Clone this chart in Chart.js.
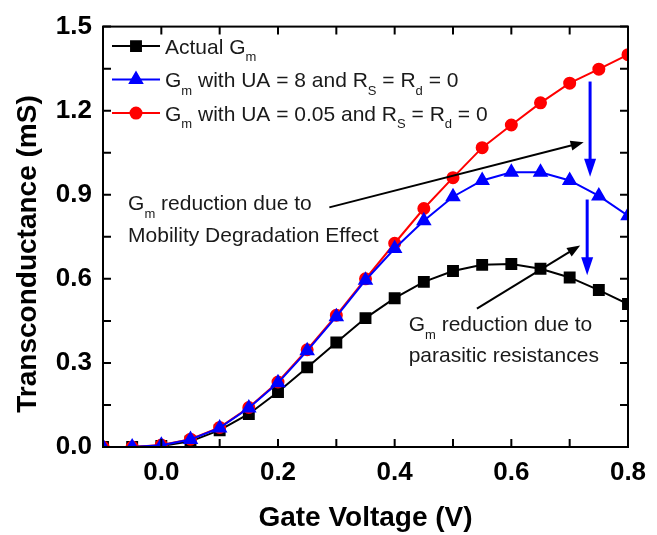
<!DOCTYPE html>
<html lang="en">
<head>
    <meta charset="UTF-8">
    <title>Transconductance</title>
    <script src="https://cdn.jsdelivr.net/npm/chart.js@4.4.1/dist/chart.umd.min.js"></script>
    <style>
        html, body { margin: 0; padding: 0; background: #fff; }
        #wrap { width: 657px; height: 535px; }
    </style>
</head>
<body>
    <div id="wrap"><canvas id="myChart" width="657" height="535"></canvas></div>
    <script>
        // Datos
        const gateV = [-0.1, -0.05, 0, 0.05, 0.1, 0.15, 0.2, 0.25, 0.3, 0.35, 0.4, 0.45, 0.5, 0.55, 0.6, 0.65, 0.7, 0.75, 0.8];
        const actualGm = [0, 0, 0.004, 0.02, 0.06, 0.118, 0.196, 0.284, 0.373, 0.46, 0.531, 0.589, 0.628, 0.65, 0.653, 0.636, 0.605, 0.56, 0.51];
        const gmUA8 = [0, 0, 0.006, 0.027, 0.068, 0.139, 0.229, 0.343, 0.465, 0.595, 0.708, 0.807, 0.893, 0.951, 0.98, 0.98, 0.951, 0.896, 0.825];
        const gmUA005 = [0, 0, 0.007, 0.028, 0.07, 0.141, 0.232, 0.347, 0.47, 0.6, 0.727, 0.851, 0.961, 1.068, 1.149, 1.228, 1.298, 1.348, 1.4];

        const xTicks = [0, 0.2, 0.4, 0.6, 0.8];
        const xMinorTicks = [-0.1, 0.1, 0.3, 0.5, 0.7];
        const yTicks = [0, 0.3, 0.6, 0.9, 1.2, 1.5];
        const yMinorTicks = [0.15, 0.45, 0.75, 1.05, 1.35];

        const FONT = '"Liberation Sans", Arial, sans-serif';

        // texto con subíndices: [texto, esSubindice]
        const legendItems = [
            { color: '#000000', style: 'rect', parts: [['Actual G', 0], ['m', 1]] },
            { color: '#0000ff', style: 'triangle', parts: [['G', 0], ['m', 1], [' with UA = 8 and R', 0], ['S', 1], [' = R', 0], ['d', 1], [' = 0', 0]] },
            { color: '#ff0000', style: 'circle', parts: [['G', 0], ['m', 1], [' with UA = 0.05 and R', 0], ['S', 1], [' = R', 0], ['d', 1], [' = 0', 0]] }
        ];

        // anotaciones en coordenadas de datos
        const notes = [
            { x: -0.057, y: 0.845, parts: [['G', 0], ['m', 1], [' reduction due to', 0]] },
            { x: -0.057, y: 0.733, parts: [['Mobility Degradation Effect', 0]] },
            { x: 0.424, y: 0.4136, parts: [['G', 0], ['m', 1], [' reduction due to', 0]] },
            { x: 0.424, y: 0.305, parts: [['parasitic resistances', 0]] }
        ];
        const arrows = [
            { from: [0.288, 0.855], to: [0.724, 1.087], color: '#000', width: 2, head: [13, 5] },
            { from: [0.541, 0.494], to: [0.718, 0.719], color: '#000', width: 2, head: [13, 5] },
            { from: [0.735, 1.304], to: [0.735, 0.964], color: '#0000ff', width: 3, head: [18, 6] },
            { from: [0.73, 0.883], to: [0.73, 0.613], color: '#0000ff', width: 3, head: [18, 6] }
        ];

        function toPoints(values) {
            return gateV.map((v, i) => ({ x: v, y: values[i] }));
        }

        function drawRich(ctx, parts, x, y, size) {
            let cx = x;
            parts.forEach(p => {
                ctx.font = (p[1] ? 13 : size) + 'px ' + FONT;
                ctx.fillText(p[0], cx, p[1] ? y + 7.5 : y);
                cx += ctx.measureText(p[0]).width;
            });
        }

        function drawArrow(ctx, x1, y1, x2, y2, a) {
            const ang = Math.atan2(y2 - y1, x2 - x1);
            const len = a.head[0], hw = a.head[1];
            const bx = x2 - Math.cos(ang) * len, by = y2 - Math.sin(ang) * len;
            ctx.strokeStyle = a.color;
            ctx.fillStyle = a.color;
            ctx.lineWidth = a.width;
            ctx.beginPath();
            ctx.moveTo(x1, y1);
            ctx.lineTo(bx + Math.cos(ang) * 2, by + Math.sin(ang) * 2);
            ctx.stroke();
            ctx.beginPath();
            ctx.moveTo(x2, y2);
            ctx.lineTo(bx + Math.sin(ang) * hw, by - Math.cos(ang) * hw);
            ctx.lineTo(bx - Math.sin(ang) * hw, by + Math.cos(ang) * hw);
            ctx.closePath();
            ctx.fill();
        }

        const decor = {
            id: 'decor',
            afterDraw(chart) {
                const ctx = chart.ctx;
                const a = chart.chartArea;
                const x = chart.scales.x, y = chart.scales.y;
                ctx.save();

                // marco y marcas hacia dentro
                ctx.strokeStyle = '#000';
                ctx.lineWidth = 2;
                ctx.strokeRect(a.left, a.top, a.right - a.left, a.bottom - a.top);
                ctx.beginPath();
                xTicks.concat(xMinorTicks).forEach(v => {
                    const px = x.getPixelForValue(v);
                    ctx.moveTo(px, a.bottom); ctx.lineTo(px, a.bottom - 8);
                    ctx.moveTo(px, a.top); ctx.lineTo(px, a.top + 8);
                });
                yTicks.concat(yMinorTicks).forEach(v => {
                    const py = y.getPixelForValue(v);
                    ctx.moveTo(a.left, py); ctx.lineTo(a.left + 8, py);
                    ctx.moveTo(a.right, py); ctx.lineTo(a.right - 8, py);
                });
                ctx.stroke();

                // títulos de ejes
                ctx.fillStyle = '#000';
                ctx.textAlign = 'center';
                ctx.textBaseline = 'middle';
                ctx.font = 'bold 28px ' + FONT;
                ctx.fillText('Gate Voltage (V)', (a.left + a.right) / 2, 518);
                ctx.save();
                ctx.translate(28, 254);
                ctx.rotate(-Math.PI / 2);
                ctx.fillText('Transconductance (mS)', 0, 0);
                ctx.restore();

                // leyenda
                ctx.textAlign = 'left';
                ctx.textBaseline = 'alphabetic';
                legendItems.forEach((it, i) => {
                    const base = a.top + 27 + i * 33.5;
                    const cy = base - 7.5;
                    ctx.strokeStyle = it.color;
                    ctx.fillStyle = it.color;
                    ctx.lineWidth = 2;
                    ctx.beginPath();
                    ctx.moveTo(a.left + 9, cy); ctx.lineTo(a.left + 57, cy);
                    ctx.stroke();
                    const r = it.style === 'circle' ? 5.5 : 7;
                    Chart.helpers.drawPoint(ctx, { pointStyle: it.style, radius: r, borderWidth: 1 }, a.left + 33, cy);
                    ctx.fillStyle = '#1a1a1a';
                    drawRich(ctx, it.parts, a.left + 62, base, 21);
                });

                // anotaciones
                ctx.fillStyle = '#1a1a1a';
                notes.forEach(n => {
                    drawRich(ctx, n.parts, x.getPixelForValue(n.x), y.getPixelForValue(n.y), 21);
                });
                arrows.forEach(ar => {
                    drawArrow(ctx,
                        x.getPixelForValue(ar.from[0]), y.getPixelForValue(ar.from[1]),
                        x.getPixelForValue(ar.to[0]), y.getPixelForValue(ar.to[1]), ar);
                });
                ctx.restore();
            }
        };

        const config = {
            type: 'line',
            data: {
                datasets: [
                    {
                        label: 'Actual Gm',
                        data: toPoints(actualGm),
                        borderColor: '#000000',
                        backgroundColor: '#000000',
                        borderWidth: 2,
                        pointStyle: 'rect',
                        pointRadius: 7,
                        order: 3
                    },
                    {
                        label: 'Gm with UA = 0.05',
                        data: toPoints(gmUA005),
                        borderColor: '#ff0000',
                        backgroundColor: '#ff0000',
                        borderWidth: 2,
                        pointStyle: 'circle',
                        pointRadius: 5.5,
                        order: 2
                    },
                    {
                        label: 'Gm with UA = 8',
                        data: toPoints(gmUA8),
                        borderColor: '#0000ff',
                        backgroundColor: '#0000ff',
                        borderWidth: 2,
                        pointStyle: 'triangle',
                        pointRadius: 7,
                        order: 1
                    }
                ]
            },
            options: {
                responsive: false,
                animation: false,
                layout: { padding: { left: 0, top: 18, right: 29, bottom: 0 } },
                plugins: {
                    legend: { display: false },
                    tooltip: { enabled: false }
                },
                elements: { line: { tension: 0 }, point: { borderWidth: 1 } },
                scales: {
                    x: {
                        type: 'linear',
                        min: -0.1,
                        max: 0.8,
                        grid: { display: false, drawTicks: false },
                        border: { display: false },
                        afterBuildTicks: s => { s.ticks = xTicks.map(v => ({ value: v })); },
                        afterFit: s => { s.height = 88; },
                        ticks: {
                            padding: 10,
                            maxRotation: 0,
                            color: '#000',
                            font: { size: 26, weight: 'bold', family: FONT },
                            callback: v => v.toFixed(1)
                        }
                    },
                    y: {
                        min: 0,
                        max: 1.5,
                        grid: { display: false, drawTicks: false },
                        border: { display: false },
                        afterBuildTicks: s => { s.ticks = yTicks.map(v => ({ value: v })); },
                        afterFit: s => { s.width = 103; },
                        ticks: {
                            padding: 11,
                            color: '#000',
                            font: { size: 26, weight: 'bold', family: FONT },
                            callback: v => v.toFixed(1)
                        }
                    }
                }
            },
            plugins: [decor]
        };

        var myChart = new Chart(document.getElementById('myChart'), config);
    </script>
</body>
</html>
